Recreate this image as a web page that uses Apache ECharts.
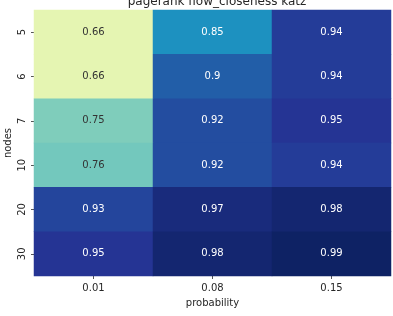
<!DOCTYPE html>
<html>
<head>
<meta charset="utf-8">
<script src="https://cdn.jsdelivr.net/npm/echarts@6/dist/echarts.min.js"></script>
<style>
    html, body {margin: 0; padding: 0; background: #fff;}
    #chart {width: 393px; height: 316px;}
</style>
</head>
<body>
<div id="chart"></div>
<script>
// probability (x) and nodes (y, top to bottom)
const probs = ['0.01', '0.08', '0.15'];
const nodes = ['5', '6', '7', '10', '20', '30'];

// one row per nodes value, columns follow probs
const row5 = [0.66, 0.85, 0.94];
const row6 = [0.66, 0.9, 0.94];
const row7 = [0.75, 0.92, 0.95];
const row10 = [0.76, 0.92, 0.94];
const row20 = [0.93, 0.97, 0.98];
const row30 = [0.95, 0.98, 0.99];
const rows = [row5, row6, row7, row10, row20, row30];

// YlGnBu
const ylgnbu = ['#ffffd9', '#edf8b1', '#c7e9b4', '#7fcdbb', '#41b6c4', '#1d91c0', '#225ea8', '#253494', '#081d58'];

let cells = [];
for (let i = 0; i < rows.length; i++) {
    for (let j = 0; j < probs.length; j++) {
        const v = rows[i][j];
        cells.push({
            value: [j, i, v],
            label: {color: v < 0.8 ? '#333333' : '#ffffff'},
        });
    }
}

const myChart = echarts.init(document.getElementById('chart'));
const font = 'DejaVu Sans';

const option = {
    animation: false,
    title: {
        text: 'pagerank flow_closeness katz',
        left: 212,
        textAlign: 'center',
        top: -9,
        textStyle: {fontFamily: font, fontSize: 12, fontWeight: 'normal', color: '#262626'},
    },
    grid: {left: 34, right: 2, top: 10, bottom: 40, outerBoundsMode: 'none', containLabel: false},
    xAxis: {
        type: 'category',
        data: probs,
        name: 'probability',
        nameLocation: 'middle',
        nameGap: 22,
        nameMoveOverlap: false,
        nameTextStyle: {fontFamily: font, fontSize: 10, color: '#262626'},
        axisLine: {show: false},
        axisTick: {show: true, alignWithLabel: true, length: 3, lineStyle: {color: '#555'}},
        axisLabel: {fontFamily: font, fontSize: 10, color: '#262626', margin: 7},
        splitLine: {show: false},
    },
    yAxis: {
        type: 'category',
        data: nodes,
        inverse: true,
        name: 'nodes',
        nameLocation: 'middle',
        nameGap: 21,
        nameMoveOverlap: false,
        nameRotate: 90,
        nameTextStyle: {fontFamily: font, fontSize: 10, color: '#262626'},
        axisLine: {show: false},
        axisTick: {show: true, alignWithLabel: true, length: 3, lineStyle: {color: '#555'}},
        axisLabel: {fontFamily: font, fontSize: 10, color: '#262626', rotate: 90, margin: 7},
        splitLine: {show: false},
    },
    visualMap: {
        show: false,
        min: 0.6,
        max: 1.0,
        dimension: 2,
        inRange: {color: ylgnbu},
    },
    series: [{
        type: 'heatmap',
        data: cells,
        label: {
            show: true,
            fontFamily: font,
            fontSize: 10,
            formatter: (p) => String(p.value[2]),
        },
        itemStyle: {borderWidth: 0},
    }],
};
myChart.setOption(option);
</script>
</body>
</html>
